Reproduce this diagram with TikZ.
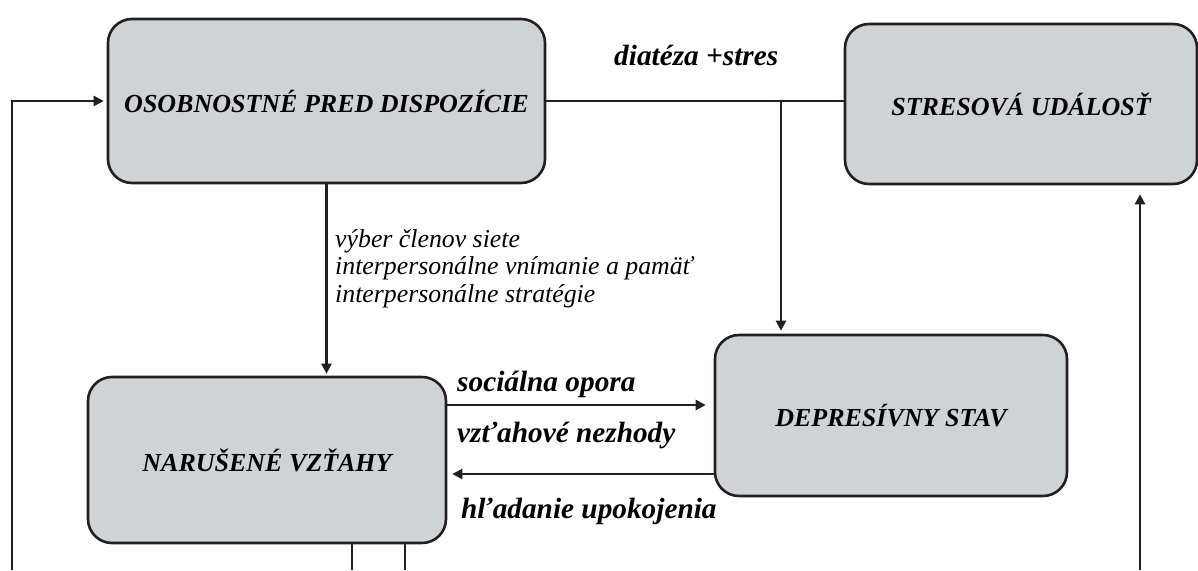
\documentclass[tikz,border=0pt]{standalone}
\usepackage{fontspec}
\setmainfont{Liberation Serif}
\usetikzlibrary{arrows.meta}
\definecolor{boxfill}{RGB}{207,211,214}
\definecolor{ink}{RGB}{35,31,32}
\tikzset{
  stage/.style={draw=ink, line width=2.6pt, fill=boxfill, rounded corners=24pt,
    inner sep=0pt, text=black, font=\fontsize{26}{30}\selectfont\bfseries\itshape},
  link/.style={draw=ink, line width=2.3pt},
  flow/.style={link, -{Triangle[length=10pt,width=10pt]}},
  lbl/.style={inner sep=0pt, anchor=base west, font=\fontsize{29.3}{32}\selectfont\bfseries\itshape},
  note/.style={inner sep=0pt, anchor=base west, font=\fontsize{25.8}{28}\selectfont\itshape},
}
\begin{document}
\begin{tikzpicture}[x=1pt,y=-1pt]
\useasboundingbox (0,0) rectangle (1198,570);

% stages
\node[stage, minimum width=437pt, minimum height=164pt] (disp) at (326.5,101) {OSOBNOSTNÉ PRED DISPOZÍCIE};
\node[stage, minimum width=352pt, minimum height=160pt] (stress) at (1021,104) {STRESOVÁ UDÁLOSŤ};
\node[stage, minimum width=352pt, minimum height=161pt] (dep) at (891,415.5) {DEPRESÍVNY STAV};
\node[stage, minimum width=358pt, minimum height=166pt] (rel) at (267,460) {NARUŠENÉ VZŤAHY};

% loose ends at the lower edge
\coordinate (loopL) at (12,570);
\coordinate (outA) at (352,570);
\coordinate (outB) at (405,570);
\coordinate (loopR) at (1140,570);
\coordinate (fork) at (781,101);

% connectors
\draw[flow, shorten >=3pt] (loopL) |- (disp.west);
\draw[link] (disp.east) -- (disp.east -| stress.west);
\draw[flow, shorten >=3pt] (fork) -- (fork |- dep.north);
\draw[flow, shorten >=2pt] (disp.south) -- (disp.south |- rel.north);
\draw[flow, shorten >=8pt] (rel.east |- 0,405) -- (dep.west |- 0,405);
\draw[flow, shorten >=5pt] (dep.west |- 0,474) -- (rel.east |- 0,474);
\draw[link] (outA |- rel.south) -- (outA);
\draw[link] (outB |- rel.south) -- (outB);
\draw[flow, shorten >=9pt] (loopR) -- (loopR |- stress.south);

% labels
\node[lbl] (tDia) at (614,65) {diatéza +stres};
\node[note] (tN1) at (335,247) {výber členov siete};
\node[note] (tN2) at (335,274.5) {interpersonálne vnímanie a pamäť};
\node[note] (tN3) at (335,302) {interpersonálne stratégie};
\node[lbl] (tSoc) at (457,391) {sociálna opora};
\node[lbl] (tVz) at (457,442) {vzťahové nezhody};
\node[lbl] (tHl) at (461,518) {hľadanie upokojenia};
\end{tikzpicture}
\end{document}
